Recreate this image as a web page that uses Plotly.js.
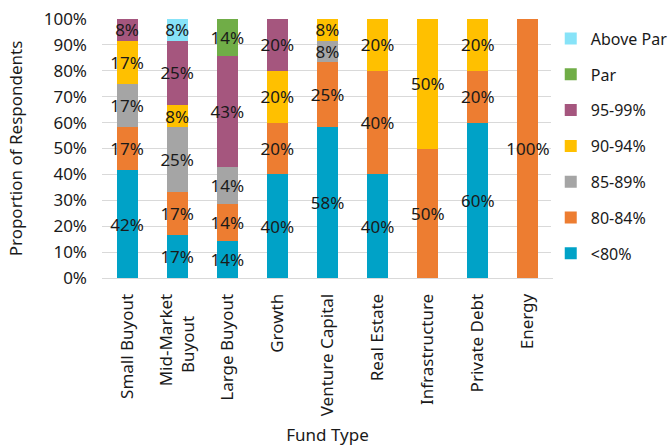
<!DOCTYPE html>
<html>
<head>
<meta charset="utf-8">
<script src="https://cdn.plot.ly/plotly-3.0.1.min.js"></script>
<style>
  html, body { margin: 0; padding: 0; background: #fff; }
  #chart { width: 669px; height: 446px; }
</style>
</head>
<body>
<div id="chart"></div>
<script>
// Fund types along the x axis (the trailing no-break spaces centre the second line)
const fundTypes = ['Small Buyout', 'Mid-Market<br>Buyout\u00a0\u00a0\u00a0\u00a0\u00a0', 'Large Buyout', 'Growth',
  'Venture Capital', 'Real Estate', 'Infrastructure', 'Private Debt', 'Energy'];

// Share of respondents (%) per price band, one value per fund type
const below80   = [41.66, 16.67, 14.28, 40, 58.34, 40, 0, 60, 0];
const band80_84 = [16.67, 16.67, 14.28, 20, 25.00, 40, 50, 20, 100];
const band85_89 = [16.67, 25.00, 14.28, 0, 8.33, 0, 0, 0, 0];
const band90_94 = [16.67, 8.33, 0, 20, 8.33, 20, 50, 20, 0];
const band95_99 = [8.33, 25.00, 42.86, 20, 0, 0, 0, 0, 0];
const par       = [0, 0, 14.30, 0, 0, 0, 0, 0, 0];
const abovePar  = [0, 8.33, 0, 0, 0, 0, 0, 0, 0];

const seriesNames = ['<80%', '80-84%', '85-89%', '90-94%', '95-99%', 'Par', 'Above Par'];
const seriesValues = [below80, band80_84, band85_89, band90_94, band95_99, par, abovePar];
const seriesColors = ['#00a2c7', '#ed7d31', '#a5a5a5', '#ffc000', '#a5567e', '#70ad47', '#87e3f8'];

const yTickVals = [0, 10, 20, 30, 40, 50, 60, 70, 80, 90, 100];
const yTickText = yTickVals.map(v => v + '%');

const FONT = 'Noto Sans, Open Sans, sans-serif';
const FS = 17;
const INK = '#1a1a1a';

const traces = seriesNames.map((name, i) => ({
  type: 'bar',
  name: name,
  x: fundTypes,
  y: seriesValues[i],
  text: seriesValues[i].map(v => v > 0 ? Math.round(v) + '%' : ''),
  textposition: 'inside',
  textangle: 0,
  insidetextanchor: 'middle',
  constraintext: 'none',
  textfont: { family: FONT, size: FS, color: INK },
  marker: { color: seriesColors[i], line: { width: 0 } },
  legendgroup: 'g' + i,
  legendrank: seriesNames.length - i,
  hoverinfo: 'name+y',
  cliponaxis: false
}));

const layout = {
  width: 669,
  height: 446,
  barmode: 'stack',
  bargap: 0.58,
  margin: { l: 102, r: 116, t: 19, b: 168, autoexpand: false },
  paper_bgcolor: '#ffffff',
  plot_bgcolor: '#ffffff',
  font: { family: FONT, size: FS, color: INK },
  uniformtext: { mode: 'show', minsize: FS },
  showlegend: true,
  legend: {
    traceorder: 'grouped',
    x: 0.995, xanchor: 'left',
    y: 0.99, yanchor: 'top',
    tracegroupgap: 12,
    font: { family: FONT, size: 16, color: INK }
  },
  xaxis: {
    type: 'category',
    tickangle: -90,
    ticks: '',
    automargin: false,
    ticklabelstandoff: 8,
    showline: true,
    linecolor: '#d9d9d9',
    linewidth: 1,
    showgrid: false,
    tickfont: { family: FONT, size: FS, color: INK },
    title: { text: 'Fund Type', font: { family: FONT, size: FS, color: INK }, standoff: 13 }
  },
  yaxis: {
    range: [0, 100],
    tickvals: yTickVals,
    ticktext: yTickText,
    automargin: false,
    ticklabelstandoff: 14,
    showgrid: true,
    gridcolor: '#d9d9d9',
    gridwidth: 1,
    zeroline: false,
    showline: false,
    ticks: '',
    tickfont: { family: FONT, size: FS, color: INK },
    title: { text: 'Proportion of Respondents', font: { family: FONT, size: FS, color: INK }, standoff: 16 }
  }
};

Plotly.newPlot('chart', traces, layout, { displayModeBar: false, staticPlot: true });
</script>
</body>
</html>
